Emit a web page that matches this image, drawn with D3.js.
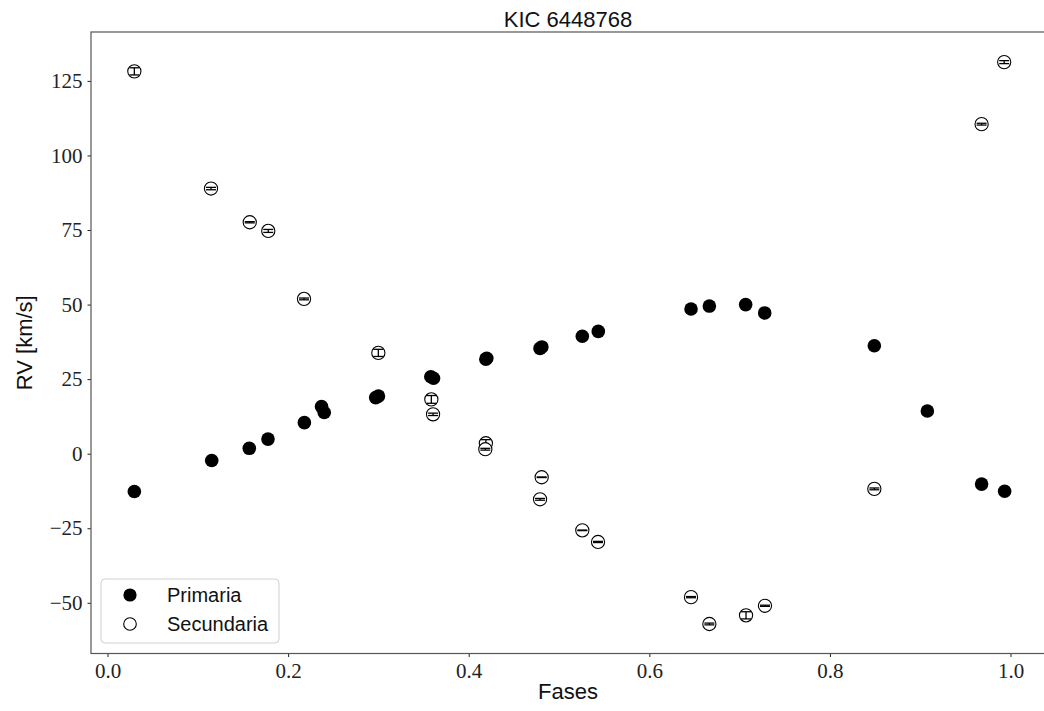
<!DOCTYPE html>
<html>
<head>
<meta charset="utf-8">
<script src="https://cdn.jsdelivr.net/npm/d3@7"></script>
<style>
  html, body { margin: 0; padding: 0; background: #fff; }
  svg { display: block; }
</style>
</head>
<body>
<svg id="chart" width="1044" height="711"></svg>
<script>
// Radial velocity curve of KIC 6448768, folded on the orbital phase.

// Primary component: phase and RV (km/s)
const phasePrim = [0.0297, 0.1154, 0.157, 0.1777, 0.218, 0.237, 0.240, 0.297, 0.300,
                   0.358, 0.361, 0.419, 0.420, 0.479, 0.481, 0.5258, 0.5435, 0.6462,
                   0.6665, 0.7067, 0.7278, 0.8492, 0.9079, 0.968, 0.9935];
const rvPrim    = [-12.7, -2.3, 1.8, 4.9, 10.4, 15.8, 13.8, 18.8, 19.3,
                   25.8, 25.3, 31.7, 32.0, 35.3, 35.8, 39.4, 41.0, 48.5,
                   49.5, 50.0, 47.2, 36.2, 14.3, -10.2, -12.6];

// Secondary component: phase, RV (km/s) and RV uncertainty (km/s)
const phaseSec = [0.0297, 0.1146, 0.1575, 0.178, 0.2176, 0.2999, 0.3586, 0.3605,
                  0.419, 0.4184, 0.4808, 0.479, 0.5258, 0.5432, 0.6462, 0.6665,
                  0.7071, 0.7281, 0.8492, 0.968, 0.993];
const rvSec    = [128.2, 88.9, 77.6, 74.7, 51.9, 33.8, 18.2, 13.2,
                  3.5, 1.5, -7.9, -15.3, -25.7, -29.6, -48.1, -57.1,
                  -54.2, -51.0, -11.8, 110.5, 131.3];
const errSec   = [1.2, 0.4, 0.2, 0.5, 0.3, 1.2, 1.3, 0.4,
                  1.2, 0.3, 0.1, 0.3, 0.1, 0.2, 0.2, 0.3,
                  1.2, 0.2, 0.3, 0.3, 0.5];

// Axis ticks
const xTicks = [0.0, 0.2, 0.4, 0.6, 0.8, 1.0];
const yTicks = [-50, -25, 0, 25, 50, 75, 100, 125];

const labels = { title: "KIC 6448768", x: "Fases", y: "RV [km/s]",
                 prim: "Primaria", sec: "Secundaria" };

const svg = d3.select("#chart");
const plot = { left: 91, right: 1045, top: 32, bottom: 653.5 };

const x = d3.scaleLinear().domain([-0.0183, 1.0382]).range([plot.left, plot.right]);
const y = d3.scaleLinear().domain([-67.0, 141.4]).range([plot.bottom, plot.top]);

const serif = "'Liberation Serif', 'DejaVu Serif', serif";
const sans = "'Liberation Sans', Arial, Helvetica, sans-serif";
const spineColor = "#555";

// Axes
const xAxis = svg.append("g")
  .attr("transform", `translate(0,${plot.bottom})`)
  .call(d3.axisBottom(x).tickValues(xTicks).tickFormat(d3.format(".1f"))
          .tickSize(3.5).tickPadding(5));
const yAxis = svg.append("g")
  .attr("transform", `translate(${plot.left},0)`)
  .call(d3.axisLeft(y).tickValues(yTicks)
          .tickFormat(d => d < 0 ? "\u2212" + Math.abs(d) : String(d))
          .tickSize(3.5).tickPadding(5));

[xAxis, yAxis].forEach(g => {
  g.select(".domain").remove();
  g.selectAll(".tick line").attr("stroke", "#222").attr("stroke-width", 1);
  g.selectAll(".tick text").attr("fill", "#222")
    .style("font-family", serif).style("font-size", "21px");
});
xAxis.selectAll(".tick text").attr("dy", "0.78em");

// Frame
svg.append("rect")
  .attr("x", plot.left).attr("y", plot.top)
  .attr("width", plot.right - plot.left).attr("height", plot.bottom - plot.top)
  .attr("fill", "none").attr("stroke", spineColor).attr("stroke-width", 1.2);

// Primary points (filled)
svg.append("g").selectAll("circle")
  .data(phasePrim.map((p, i) => ({ p, v: rvPrim[i] })))
  .join("circle")
  .attr("cx", d => x(d.p)).attr("cy", d => y(d.v))
  .attr("r", 6.8).attr("fill", "#000");

// Secondary points (open markers with error bars)
const secData = phaseSec.map((p, i) => ({ p, v: rvSec[i], e: errSec[i] }));
const sec = svg.append("g").selectAll("g").data(secData).join("g");
sec.append("circle")
  .attr("cx", d => x(d.p)).attr("cy", d => y(d.v))
  .attr("r", 6.6).attr("fill", "#fff").attr("stroke", "#000").attr("stroke-width", 1.1);
const cap = 5;
sec.append("line")
  .attr("x1", d => x(d.p)).attr("x2", d => x(d.p))
  .attr("y1", d => y(d.v - d.e)).attr("y2", d => y(d.v + d.e))
  .attr("stroke", "#000").attr("stroke-width", 1.3);
sec.append("line")
  .attr("x1", d => x(d.p) - cap).attr("x2", d => x(d.p) + cap)
  .attr("y1", d => y(d.v - d.e)).attr("y2", d => y(d.v - d.e))
  .attr("stroke", "#000").attr("stroke-width", 1.3);
sec.append("line")
  .attr("x1", d => x(d.p) - cap).attr("x2", d => x(d.p) + cap)
  .attr("y1", d => y(d.v + d.e)).attr("y2", d => y(d.v + d.e))
  .attr("stroke", "#000").attr("stroke-width", 1.3);

// Title and axis labels
svg.append("text")
  .attr("x", (plot.left + plot.right) / 2).attr("y", 27)
  .attr("text-anchor", "middle").attr("fill", "#111")
  .style("font-family", sans).style("font-size", "22px")
  .text(labels.title);
svg.append("text")
  .attr("x", (plot.left + plot.right) / 2).attr("y", 699)
  .attr("text-anchor", "middle").attr("fill", "#111")
  .style("font-family", sans).style("font-size", "22px")
  .text(labels.x);
svg.append("text")
  .attr("transform", `translate(32,${(plot.top + plot.bottom) / 2}) rotate(-90)`)
  .attr("text-anchor", "middle").attr("fill", "#111")
  .style("font-family", sans).style("font-size", "22px")
  .text(labels.y);

// Legend
const legend = svg.append("g");
legend.append("rect")
  .attr("x", 101).attr("y", 579).attr("width", 178).attr("height", 64)
  .attr("rx", 4).attr("fill", "#fff").attr("fill-opacity", 0.8)
  .attr("stroke", "#d0d0d0").attr("stroke-width", 1);
legend.append("circle").attr("cx", 130).attr("cy", 595).attr("r", 6.6).attr("fill", "#000");
legend.append("circle").attr("cx", 130).attr("cy", 624).attr("r", 6.3)
  .attr("fill", "#fff").attr("stroke", "#000").attr("stroke-width", 1.1);
[[labels.prim, 595], [labels.sec, 624]].forEach(([t, cy]) => {
  legend.append("text")
    .attr("x", 167).attr("y", cy).attr("dy", "0.35em").attr("fill", "#111")
    .style("font-family", sans).style("font-size", "20px")
    .text(t);
});
</script>
</body>
</html>
